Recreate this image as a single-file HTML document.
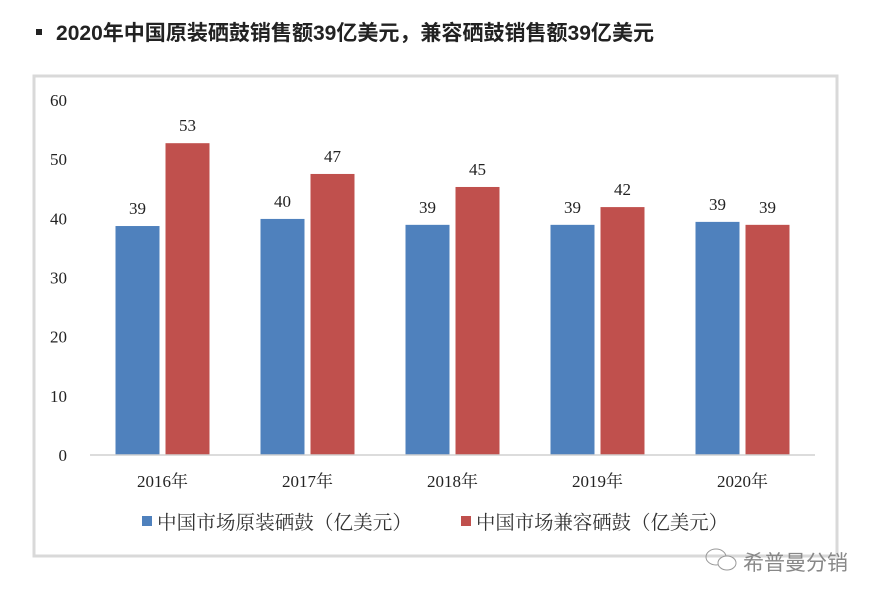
<!DOCTYPE html>
<html><head><meta charset="utf-8"><style>
body{margin:0;background:#fff;width:880px;height:602px;overflow:hidden;font-family:"Liberation Serif","Noto Serif CJK SC",serif}
</style></head><body>
<svg width="880" height="602" xmlns="http://www.w3.org/2000/svg">
<rect x="36" y="29" width="6" height="6" fill="#222"/>
<text x="56" y="40" font-family="'Liberation Sans','Noto Sans CJK SC',sans-serif" font-weight="bold" font-size="21" fill="#222" textLength="598" lengthAdjust="spacingAndGlyphs">2020年中国原装硒鼓销售额39亿美元，兼容硒鼓销售额39亿美元</text>
<rect x="34" y="76" width="803" height="480" fill="#fff" stroke="#d9d9d9" stroke-width="3"/>
<g id="yaxis"></g><g id="bars"></g><g id="xlabels"></g>
<line x1="90" y1="455" x2="815" y2="455" stroke="#d0d0d0" stroke-width="1.5"/>
<rect x="142" y="516" width="10" height="10" fill="#4f81bd"/>
<text x="157" y="529" font-size="19.5" fill="#333" textLength="255" lengthAdjust="spacingAndGlyphs">中国市场原装硒鼓（亿美元）</text>
<rect x="461" y="516" width="10" height="10" fill="#c0504d"/>
<text x="476" y="529" font-size="19.5" fill="#333" textLength="252" lengthAdjust="spacingAndGlyphs">中国市场兼容硒鼓（亿美元）</text>
<g>
<ellipse cx="716" cy="557" rx="10" ry="8" fill="none" stroke="#999" stroke-width="1"/>
<ellipse cx="727" cy="563" rx="9" ry="7" fill="#fff" stroke="#999" stroke-width="1"/>
<text x="743" y="570" font-family="'Liberation Sans','Noto Sans CJK SC',sans-serif" font-size="21" fill="#888">希普曼分销</text>
</g>
</svg>
<script>
const categories=["2016年","2017年","2018年","2019年","2020年"];
const originalValues=[38.7,39.9,38.9,38.9,39.4];
const compatibleValues=[52.7,47.5,45.3,41.9,38.9];
const originalLabels=["39","40","39","39","39"];
const compatibleLabels=["53","47","45","42","39"];
const yTicks=[0,10,20,30,40,50,60];
const NS="http://www.w3.org/2000/svg";
const y0=455,yTop=100,yMax=60,left=90,right=815;
function yScale(v){return y0-(v/yMax)*(y0-yTop);}
const bandW=(right-left)/categories.length;
function xCenter(i){return left+bandW*(i+0.5);}
function mk(tag,attrs,parent,txt){const e=document.createElementNS(NS,tag);for(const k in attrs)e.setAttribute(k,attrs[k]);if(txt!==undefined)e.textContent=txt;parent.appendChild(e);return e;}
const ya=document.getElementById('yaxis'),bars=document.getElementById('bars'),xl=document.getElementById('xlabels');
yTicks.forEach(t=>{const e=mk('text',{x:67,y:yScale(t)+6,'text-anchor':'end','font-size':17,fill:'#222'},ya,String(t));

});
categories.forEach((c,i)=>{
const cx=xCenter(i),bw=44,gap=6;
const b1=mk('rect',{x:cx-gap/2-bw,y:yScale(originalValues[i]),width:bw,height:y0-yScale(originalValues[i]),fill:'#4f81bd'},bars);


const b2=mk('rect',{x:cx+gap/2,y:yScale(compatibleValues[i]),width:bw,height:y0-yScale(compatibleValues[i]),fill:'#c0504d'},bars);


const l1=mk('text',{x:cx-gap/2-bw/2,y:yScale(originalValues[i])-12,'text-anchor':'middle','font-size':17,fill:'#222'},bars,originalLabels[i]);


const l2=mk('text',{x:cx+gap/2+bw/2,y:yScale(compatibleValues[i])-12,'text-anchor':'middle','font-size':17,fill:'#222'},bars,compatibleLabels[i]);


const xt=mk('text',{x:cx,y:487,'text-anchor':'middle','font-size':17,fill:'#222'},xl,c);


});
</script>
</body></html>
